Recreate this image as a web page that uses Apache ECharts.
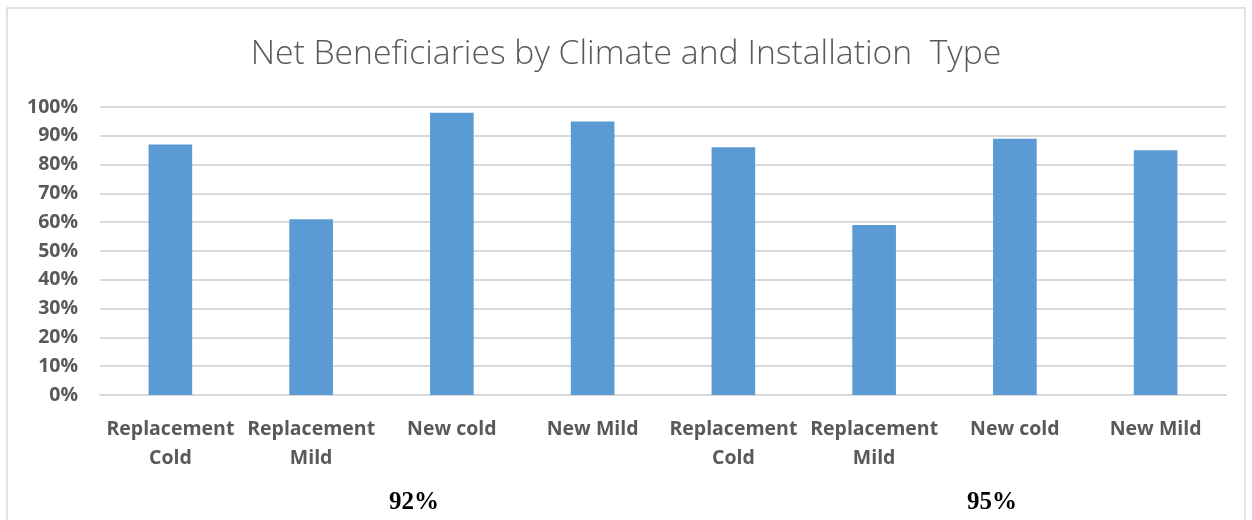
<!DOCTYPE html>
<html><head><meta charset="utf-8">
<script src="https://cdn.jsdelivr.net/npm/echarts@6/dist/echarts.min.js"></script>
<style>html,body{margin:0;padding:0;background:#fff}#c{width:1252px;height:520px}</style>
</head><body><div id="c"></div>
<script>
const categories = ['Replacement\nCold','Replacement\nMild','New cold','New Mild','Replacement\nCold','Replacement\nMild','New cold','New Mild'];
const values = [87, 61, 98, 95, 86, 59, 89, 85];
const groupLabels = ['92%', '95%'];
const chart = echarts.init(document.getElementById('c'));
chart.setOption({
  animation: false,
  backgroundColor: '#fff',
  title: {
    text: 'Net Beneficiaries by Climate and Installation  Type',
    left: 'center', top: 32,
    textStyle: {fontFamily: 'Open Sans', fontWeight: 300, fontSize: 33.7, color: '#595959'}
  },
  grid: {left: 100, right: 26, top: 107, bottom: 125},
  xAxis: {
    type: 'category', data: categories,
    axisLine: {lineStyle: {color: '#d9d9d9', width: 2}},
    axisTick: {show: false},
    axisLabel: {interval: 0, margin: 20, fontFamily: 'Open Sans', fontWeight: 'bold', fontSize: 19.5, color: '#595959', lineHeight: 29}
  },
  yAxis: {
    type: 'value', min: 0, max: 100, interval: 10,
    axisLine: {show: false}, axisTick: {show: false},
    splitLine: {lineStyle: {color: '#d9d9d9', width: 2}},
    axisLabel: {formatter: '{value}%', margin: 22, fontFamily: 'Open Sans', fontWeight: 'bold', fontSize: 19.5, color: '#595959'}
  },
  series: [{
    type: 'bar', data: values, barWidth: '31%',
    itemStyle: {color: '#5b9bd5'}
  }],
  graphic: [
    {type: 'rect', shape: {x: 7, y: 8, width: 1238, height: 530}, style: {fill: 'none', stroke: '#d9d9d9', lineWidth: 1.5}, silent: true},
    {type: 'text', left: 389, top: 490, style: {text: groupLabels[0], font: 'bold 25px "Liberation Serif"', fill: '#000'}},
    {type: 'text', left: 967, top: 490, style: {text: groupLabels[1], font: 'bold 25px "Liberation Serif"', fill: '#000'}}
  ]
});
</script></body></html>
